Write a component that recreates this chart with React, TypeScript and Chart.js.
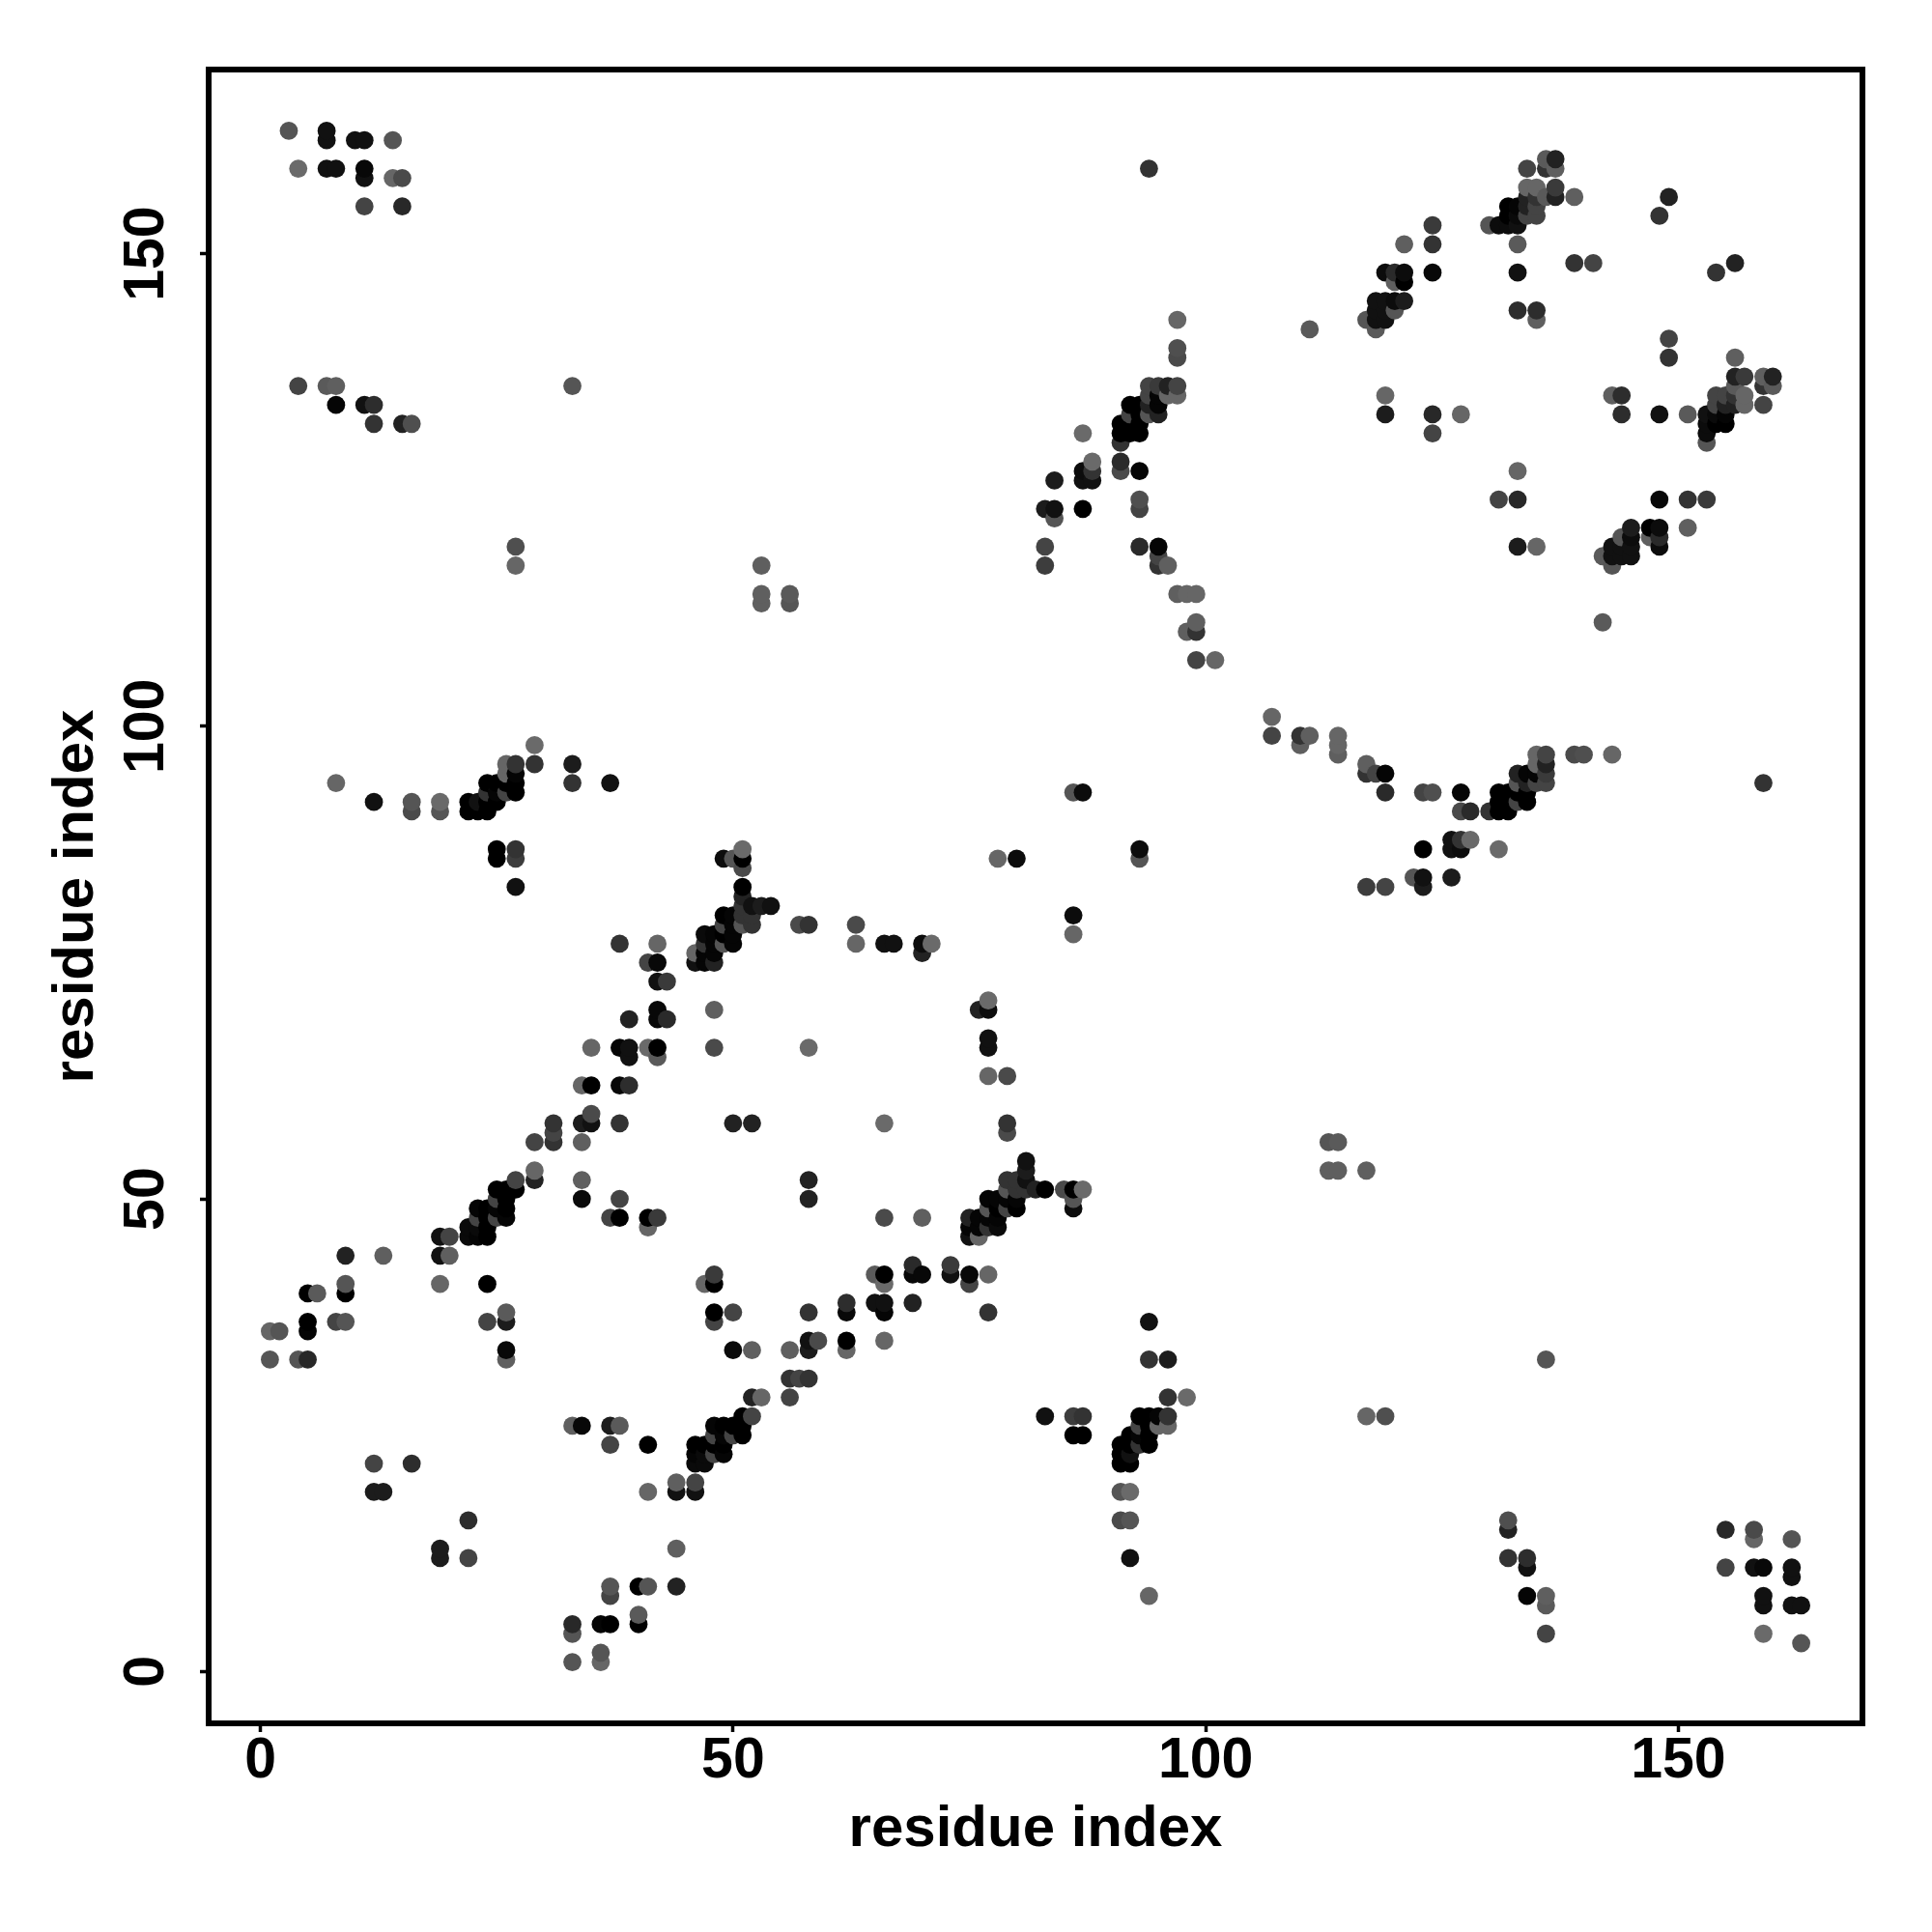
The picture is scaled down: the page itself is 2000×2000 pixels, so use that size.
import React, { useEffect, useRef } from "react";
import { Chart, registerables } from "chart.js";

Chart.register(...registerables);

// Each contact: [residue i, residue j, darkness level]. The map is symmetric.
const contactsA: number[][] = [
  [1,33,85],[1,36,102],[2,36,85],[3,163,85],[4,33,85],[4,136,68],[4,159,106],
  [5,33,40],[5,36,5],[5,37,0],[5,40,0],[6,40,90],[7,136,90],[7,159,17],[7,162,17],[7,163,17],
  [8,37,68],[8,94,102],[8,134,5],[8,136,95],[8,159,17],[9,37,85],[9,40,0],[9,41,85],[9,44,34],
  [10,162,17],[11,134,17],[11,155,68],[11,158,17],[11,159,8],[11,162,17],
  [12,19,28],[12,22,68],[12,92,17],[12,132,51],[12,134,45],[13,19,28],[13,44,95],
  [14,158,102],[14,162,85],[15,132,34],[15,155,40],[15,158,74],
  [16,22,45],[16,91,74],[16,92,85],[16,132,79],
  [19,41,102],[19,44,17],[19,46,17],[19,91,85],[19,92,106],[20,44,95],[20,46,68],
];
const contactsB: number[][] = [
  [22,46,10],[22,47,10],[22,91,0],[22,92,0],
  [23,46,5],[23,47,10],[23,48,68],[23,49,5],[23,91,0],[23,92,17],
  [24,37,68],[24,41,0],[24,46,0],[24,47,0],[24,48,0],[24,49,0],[24,91,0],[24,92,0],[24,93,51],[24,94,0],
  [25,48,68],[25,49,5],[25,50,68],[25,51,0],[25,86,0],[25,87,0],[25,92,0],[25,93,5],[25,94,0],
  [26,33,95],[26,34,8],[26,37,28],[26,38,90],[26,48,5],[26,49,0],[26,50,0],[26,51,0],
  [26,93,68],[26,94,0],[26,95,102],[26,96,102],
  [27,51,0],[27,52,68],[27,83,17],[27,86,61],[27,87,51],[27,93,0],[27,94,0],[27,95,5],[27,96,51],
  [27,117,102],[27,119,79],
  [29,52,34],[29,53,102],[29,56,68],[29,96,51],[29,98,106],[31,56,51],[31,57,68],[31,58,51],
  [33,94,51],[33,96,28],[33,136,85],
];
const contactsC: number[][] = [
  [34,50,10],[34,52,95],[34,56,95],[34,58,28],[34,62,102],[35,58,17],[35,59,74],[35,62,0],[35,66,102],
  [37,48,68],[37,94,17],[38,48,0],[38,50,68],[38,58,51],[38,62,8],[38,66,5],[38,77,51],
  [39,62,45],[39,65,17],[39,66,17],[39,69,34],[41,47,102],[41,48,0],[41,66,106],[41,75,68],
  [42,48,58],[42,65,90],[42,66,0],[42,69,8],[42,70,8],[42,73,17],[42,75,8],[42,77,102],
  [43,69,42],[43,73,58],[46,75,17],[46,76,102],[47,75,5],[47,76,5],[47,77,51],[47,78,10],
  [48,66,74],[48,70,95],[48,75,34],[48,76,5],[48,77,5],[48,78,5],
  [49,77,85],[49,78,0],[49,79,68],[49,80,0],[49,86,12],
  [50,58,34],[50,77,5],[50,78,5],[50,79,5],[50,80,5],[50,86,85],
  [51,79,85],[51,80,51],[51,81,51],[51,82,34],[51,83,0],[51,85,74],[51,86,0],[51,87,106],
  [52,58,34],[52,79,51],[52,80,51],[52,81,17],[53,81,28],[53,113,95],[53,114,95],[53,117,95],
  [54,81,17],[56,113,85],[56,114,90],[57,79,74],[58,66,106],[58,79,51],
];
const contactsD: number[][] = [
  [63,77,102],[63,79,74],[66,77,17],[67,77,17],[70,76,34],[70,77,12],[71,77,106],
  [78,86,102],[80,86,12],[83,117,61],[83,119,68],[83,123,28],[84,122,85],[84,123,17],[84,126,28],
  [86,93,85],[87,93,12],[87,123,0],[87,126,17],[87,127,12],[87,131,106],
  [88,126,17],[88,127,51],[88,128,106],
  [91,127,74],[91,128,42],[91,130,51],[91,131,0],[91,132,0],
  [92,131,0],[92,132,0],[92,133,68],[92,134,0],
  [93,119,42],[93,123,68],[93,124,79],[93,127,5],[93,131,0],[93,132,0],[93,133,0],[93,134,0],
  [94,133,85],[94,134,34],[94,135,68],[94,136,68],[94,159,51],
  [95,117,51],[95,118,68],[95,119,5],[95,133,34],[95,134,5],[95,135,5],[95,136,58],
  [96,117,95],[96,135,102],[96,136,34],
  [97,114,95],[97,135,102],[97,136,68],[97,139,74],[97,140,79],[97,143,102],
  [98,110,95],[98,114,102],[99,107,68],[99,110,51],[99,111,95],[99,114,102],[101,107,102],[111,142,90],
];
const contactsE: number[][] = [
  [117,143,85],[118,142,90],[118,143,17],[118,144,17],[118,145,17],
  [119,133,28],[119,135,102],[119,143,17],[119,144,17],[119,145,17],[119,148,12],
  [120,144,85],[120,145,12],[120,147,95],[120,148,42],[121,145,28],[121,147,0],[121,148,12],[121,151,95],
  [124,131,68],[124,133,40],[124,148,8],[124,151,51],[124,153,58],[127,133,102],
  [130,153,85],[131,153,12],[132,153,12],[132,154,0],[132,155,0],
  [133,144,45],[133,148,17],[133,151,90],[133,153,17],[133,154,10],[133,155,5],
  [134,154,68],[134,155,34],[134,156,34],[134,157,102],[134,159,68],
  [135,143,95],[135,144,45],[135,154,68],[135,155,68],[135,156,51],[135,157,102],
  [136,156,90],[136,159,51],[136,160,90],[137,156,34],[137,157,58],[137,159,95],[137,160,34],
  [139,149,51],[139,156,95],[141,149,68],[148,154,51],[149,156,34],
];

const axisTicks = [0, 50, 100, 150];
const axisTitle = "residue index";

const halfContacts = [...contactsA, ...contactsB, ...contactsC, ...contactsD, ...contactsE];
const allContacts = halfContacts
  .flatMap(([i, j, level]) => [
    { x: i, y: j, level },
    { x: j, y: i, level },
  ])
  .sort((a, b) => a.x - b.x || a.y - b.y);

const FONT = '"Liberation Sans", Arial, sans-serif';

const boxPlugin = {
  id: "box",
  afterDatasetsDraw(chart: any) {
    const { ctx, chartArea: a } = chart;
    ctx.save();
    ctx.strokeStyle = "#000";
    ctx.lineWidth = 6;
    ctx.lineJoin = "miter";
    ctx.strokeRect(a.left, a.top, a.right - a.left, a.bottom - a.top);
    ctx.restore();
  },
};

export default function App() {
  const ref = useRef<HTMLCanvasElement>(null);
  useEffect(() => {
    if (!ref.current) return;
    const tickFont = { family: FONT, weight: "bold" as const, size: 59 };
    const titleFont = { family: FONT, weight: "bold" as const, size: 60 };
    const grid = {
      display: true,
      drawOnChartArea: false,
      drawTicks: true,
      tickLength: 9,
      tickWidth: 3.5,
      tickColor: "#000",
    };
    const chart = new Chart(ref.current, {
      type: "scatter",
      data: {
        datasets: [
          {
            data: allContacts.map((p) => ({ x: p.x, y: p.y })),
            pointRadius: 9.4,
            pointHoverRadius: 9.4,
            pointBorderWidth: 0,
            pointBackgroundColor: allContacts.map((p) => `rgb(${p.level},${p.level},${p.level})`),
            showLine: false,
          },
        ],
      },
      options: {
        animation: false,
        responsive: false,
        events: [],
        layout: { padding: { top: 72, right: 72, left: 0, bottom: 0 } },
        plugins: { legend: { display: false }, title: { display: false }, tooltip: { enabled: false } },
        scales: {
          x: {
            type: "linear",
            min: -5.48,
            max: 169.48,
            afterBuildTicks: (s: any) => {
              s.ticks = axisTicks.map((value) => ({ value }));
            },
            afterFit: (s: any) => {
              s.height = 216;
            },
            border: { display: false },
            grid,
            ticks: {
              font: tickFont,
              color: "#000",
              padding: -5,
              maxRotation: 0,
              minRotation: 0,
              autoSkip: false,
            },
            title: {
              display: true,
              text: axisTitle,
              font: titleFont,
              color: "#000",
              padding: { top: 0, bottom: 70 },
            },
          },
          y: {
            type: "linear",
            min: -5.48,
            max: 169.48,
            afterBuildTicks: (s: any) => {
              s.ticks = axisTicks.map((value) => ({ value }));
            },
            afterFit: (s: any) => {
              s.width = 216;
            },
            border: { display: false },
            grid,
            ticks: {
              font: tickFont,
              color: "#000",
              padding: 5,
              minRotation: 90,
              maxRotation: 90,
              crossAlign: "center",
              autoSkip: false,
            },
            title: {
              display: true,
              text: axisTitle,
              font: titleFont,
              color: "#000",
              padding: { top: 43, bottom: 0 },
            },
          },
        },
      },
      plugins: [boxPlugin],
    } as any);
    return () => chart.destroy();
  }, []);
  return (
    <canvas
      ref={ref}
      width={2000}
      height={2000}
      style={{ position: "fixed", left: 0, top: 0, width: 2000, height: 2000 }}
    />
  );
}
